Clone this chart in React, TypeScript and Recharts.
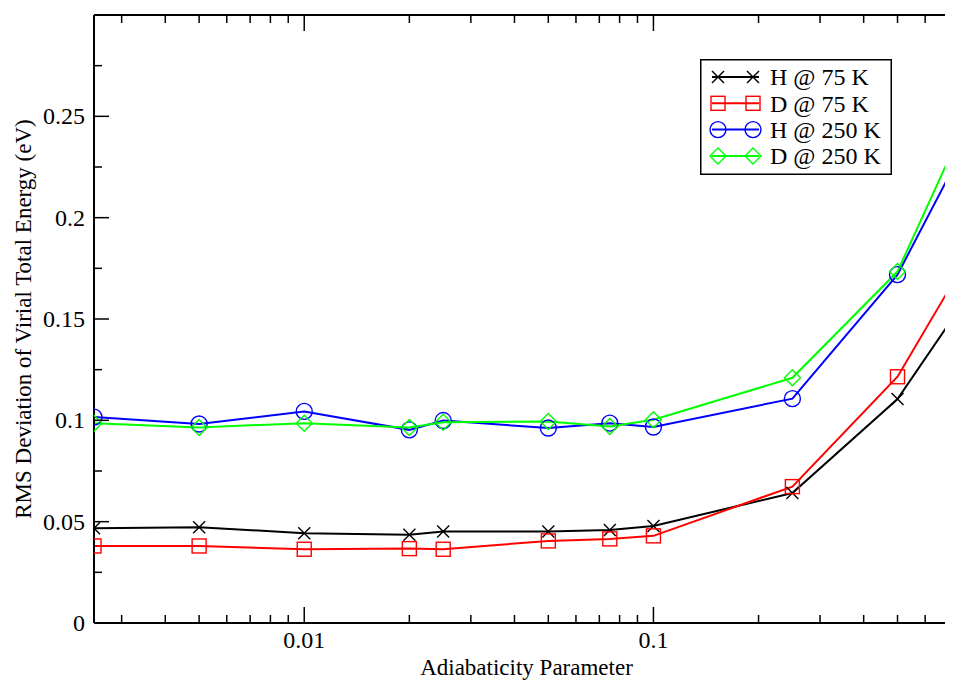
import React from "react";
import { LineChart, Line, XAxis, YAxis, Legend } from "recharts";

const adiabaticity = [0.0025, 0.005, 0.01, 0.02, 0.025, 0.05, 0.075, 0.1, 0.25, 0.5, 0.75];
const h75 = [0.0468, 0.0473, 0.0443, 0.0436, 0.0451, 0.0451, 0.0459, 0.0479, 0.0641, 0.1105, 0.155];
const d75 = [0.038, 0.038, 0.0364, 0.0367, 0.0364, 0.0405, 0.0415, 0.043, 0.0673, 0.1215, 0.173];
const h250 = [0.1016, 0.0982, 0.1044, 0.0953, 0.0999, 0.0962, 0.0986, 0.0967, 0.1107, 0.1719, 0.23];
const d250 = [0.0986, 0.0965, 0.0986, 0.0965, 0.099, 0.0994, 0.097, 0.1003, 0.121, 0.1734, 0.24];

const xTicks = [
  0.003, 0.004, 0.005, 0.006, 0.007, 0.008, 0.009, 0.01,
  0.02, 0.03, 0.04, 0.05, 0.06, 0.07, 0.08, 0.09, 0.1,
  0.2, 0.3, 0.4, 0.5, 0.6, 0.7,
];
const xMajor = [0.01, 0.1];
const yTicks = [0, 0.025, 0.05, 0.075, 0.1, 0.125, 0.15, 0.175, 0.2, 0.225, 0.25, 0.275, 0.3];
const yLabels = ["0", "0.05", "0.1", "0.15", "0.2", "0.25"];

const seriesNames = ["H @ 75 K", "D @ 75 K", "H @ 250 K", "D @ 250 K"];
const seriesKeys = ["h75", "d75", "h250", "d250"];
const seriesColors = ["#000000", "#ff0000", "#0000ff", "#00ff00"];
const seriesShapes = ["cross", "square", "circle", "diamond"];

const data = adiabaticity.map((x, i) => ({
  x,
  h75: h75[i],
  d75: d75[i],
  h250: h250[i],
  d250: d250[i],
}));

const xDomain = [0.0025, 0.75];

const FONT = '"Liberation Serif", "Times New Roman", serif';
const MAJOR = 15;
const MINOR = 8;

// the plot runs a few px past the window edge, like the original crop
const pageCss =
  "html, body { overflow: hidden; scrollbar-width: none; } ::-webkit-scrollbar { display: none; } body { margin-bottom: 0; }";

const near = (a: number, b: number) => Math.abs(a - b) < 1e-9;

function Marker({ shape, cx, cy, color }: any) {
  if (cx == null || cy == null) return null;
  const sw = 1.4;
  if (shape === "cross") {
    const s = 6;
    return (
      <g stroke={color} strokeWidth={sw}>
        <line x1={cx - s} y1={cy - s} x2={cx + s} y2={cy + s} />
        <line x1={cx - s} y1={cy + s} x2={cx + s} y2={cy - s} />
      </g>
    );
  }
  if (shape === "square") {
    return <rect x={cx - 7} y={cy - 7} width={14} height={14} fill="none" stroke={color} strokeWidth={sw} />;
  }
  if (shape === "circle") {
    return <circle cx={cx} cy={cy} r={8} fill="none" stroke={color} strokeWidth={sw} />;
  }
  const d = 8;
  return (
    <polygon
      points={`${cx},${cy - d} ${cx + d},${cy} ${cx},${cy + d} ${cx - d},${cy}`}
      fill="none"
      stroke={color}
      strokeWidth={sw}
    />
  );
}

function BottomTick({ x, y, payload }: any) {
  const major = xMajor.some((m) => near(m, payload.value));
  return (
    <g>
      <line x1={x} y1={y} x2={x} y2={y - (major ? MAJOR + 1 : MINOR)} stroke="#000" strokeWidth={1.5} />
      {major && (
        <text x={x} y={y + 25} textAnchor="middle" fontFamily={FONT} fontSize={24} fill="#000">
          {String(payload.value)}
        </text>
      )}
    </g>
  );
}

function TopTick({ x, y, payload }: any) {
  const major = xMajor.some((m) => near(m, payload.value));
  return <line x1={x} y1={y} x2={x} y2={y + (major ? MAJOR + 1 : MINOR)} stroke="#000" strokeWidth={1.5} />;
}

function LeftTick({ x, y, payload }: any) {
  const idx = Math.round(payload.value / 0.025);
  const major = idx % 2 === 0;
  const label = major ? yLabels[idx / 2] : undefined;
  return (
    <g>
      <line x1={x} y1={y} x2={x + (major ? MAJOR : MINOR)} y2={y} stroke="#000" strokeWidth={1.5} />
      {label && (
        <text x={x - 9} y={y} dy="0.34em" textAnchor="end" fontFamily={FONT} fontSize={24} fill="#000">
          {label}
        </text>
      )}
    </g>
  );
}

function RightTick({ x, y, payload }: any) {
  const idx = Math.round(payload.value / 0.025);
  const major = idx % 2 === 0;
  return <line x1={x} y1={y} x2={x - (major ? MAJOR : MINOR)} y2={y} stroke="#000" strokeWidth={1.5} />;
}

function XTitle({ viewBox }: any) {
  return (
    <text
      x={viewBox.x + viewBox.width / 2}
      y={viewBox.y + 52}
      textAnchor="middle"
      fontFamily={FONT}
      fontSize={23}
      fill="#000"
    >
      Adiabaticity Parameter
    </text>
  );
}

function YTitle({ viewBox }: any) {
  const cx = viewBox.x - 62;
  const cy = viewBox.y + viewBox.height / 2;
  return (
    <text
      x={cx}
      y={cy}
      transform={`rotate(-90, ${cx}, ${cy})`}
      textAnchor="middle"
      fontFamily={FONT}
      fontSize={23}
      fill="#000"
    >
      RMS Deviation of Virial Total Energy (eV)
    </text>
  );
}

function LegendBox() {
  return (
    <svg width={192} height={116} style={{ display: "block" }}>
      <rect x={0.75} y={0.75} width={190.5} height={114.5} fill="#fff" stroke="#000" strokeWidth={1.5} />
      {seriesNames.map((name, i) => {
        const cy = 18 + i * 26.3;
        return (
          <g key={name}>
            <line x1={12} y1={cy} x2={59} y2={cy} stroke={seriesColors[i]} strokeWidth={2} />
            <Marker shape={seriesShapes[i]} cx={18} cy={cy} color={seriesColors[i]} />
            <Marker shape={seriesShapes[i]} cx={53} cy={cy} color={seriesColors[i]} />
            <text x={70} y={cy} dy="0.35em" fontFamily={FONT} fontSize={24} fill="#000">
              {name}
            </text>
          </g>
        );
      })}
    </svg>
  );
}

export default function App() {
  return (
    <div style={{ width: 945, height: 673, overflow: "hidden", background: "#fff" }}>
      <style>{pageCss}</style>
      <LineChart
        width={960}
        height={673}
        data={data}
        margin={{ top: 6, right: 8, left: 85, bottom: 57 }}
      >
        <XAxis
          xAxisId="b"
          dataKey="x"
          type="number"
          scale="log"
          domain={xDomain}
          allowDataOverflow
          ticks={xTicks}
          interval={0}
          height={1}
          tickSize={0}
          tickMargin={0}
          tickLine={false}
          tick={<BottomTick />}
          axisLine={{ stroke: "#000", strokeWidth: 2 }}
          label={<XTitle />}
        />
        <XAxis
          xAxisId="t"
          orientation="top"
          dataKey="x"
          type="number"
          scale="log"
          domain={xDomain}
          allowDataOverflow
          ticks={xTicks}
          interval={0}
          height={1}
          tickSize={0}
          tickMargin={0}
          tickLine={false}
          tick={<TopTick />}
          axisLine={{ stroke: "#000", strokeWidth: 2 }}
        />
        <YAxis
          yAxisId="l"
          type="number"
          domain={[0, 0.3]}
          ticks={yTicks}
          interval={0}
          width={1}
          tickSize={0}
          tickMargin={0}
          tickLine={false}
          tick={<LeftTick />}
          axisLine={{ stroke: "#000", strokeWidth: 2 }}
          label={<YTitle />}
        />
        <YAxis
          yAxisId="r"
          orientation="right"
          type="number"
          domain={[0, 0.3]}
          ticks={yTicks}
          interval={0}
          width={1}
          tickSize={0}
          tickMargin={0}
          tickLine={false}
          tick={<RightTick />}
          axisLine={{ stroke: "#000", strokeWidth: 2 }}
        />
        <Legend
          layout="vertical"
          align="center"
          verticalAlign="middle"
          wrapperStyle={{ left: 692, top: 51, width: 192, height: 116 }}
          content={<LegendBox />}
        />
        {seriesKeys.map((key, i) => (
          <Line
            key={key}
            xAxisId="b"
            yAxisId="l"
            dataKey={key}
            name={seriesNames[i]}
            type="linear"
            stroke={seriesColors[i]}
            strokeWidth={2}
            isAnimationActive={false}
            dot={(p: any) => (
              <Marker key={`${key}-${p.index}`} shape={seriesShapes[i]} cx={p.cx} cy={p.cy} color={seriesColors[i]} />
            )}
            activeDot={false}
          />
        ))}
      </LineChart>
    </div>
  );
}
